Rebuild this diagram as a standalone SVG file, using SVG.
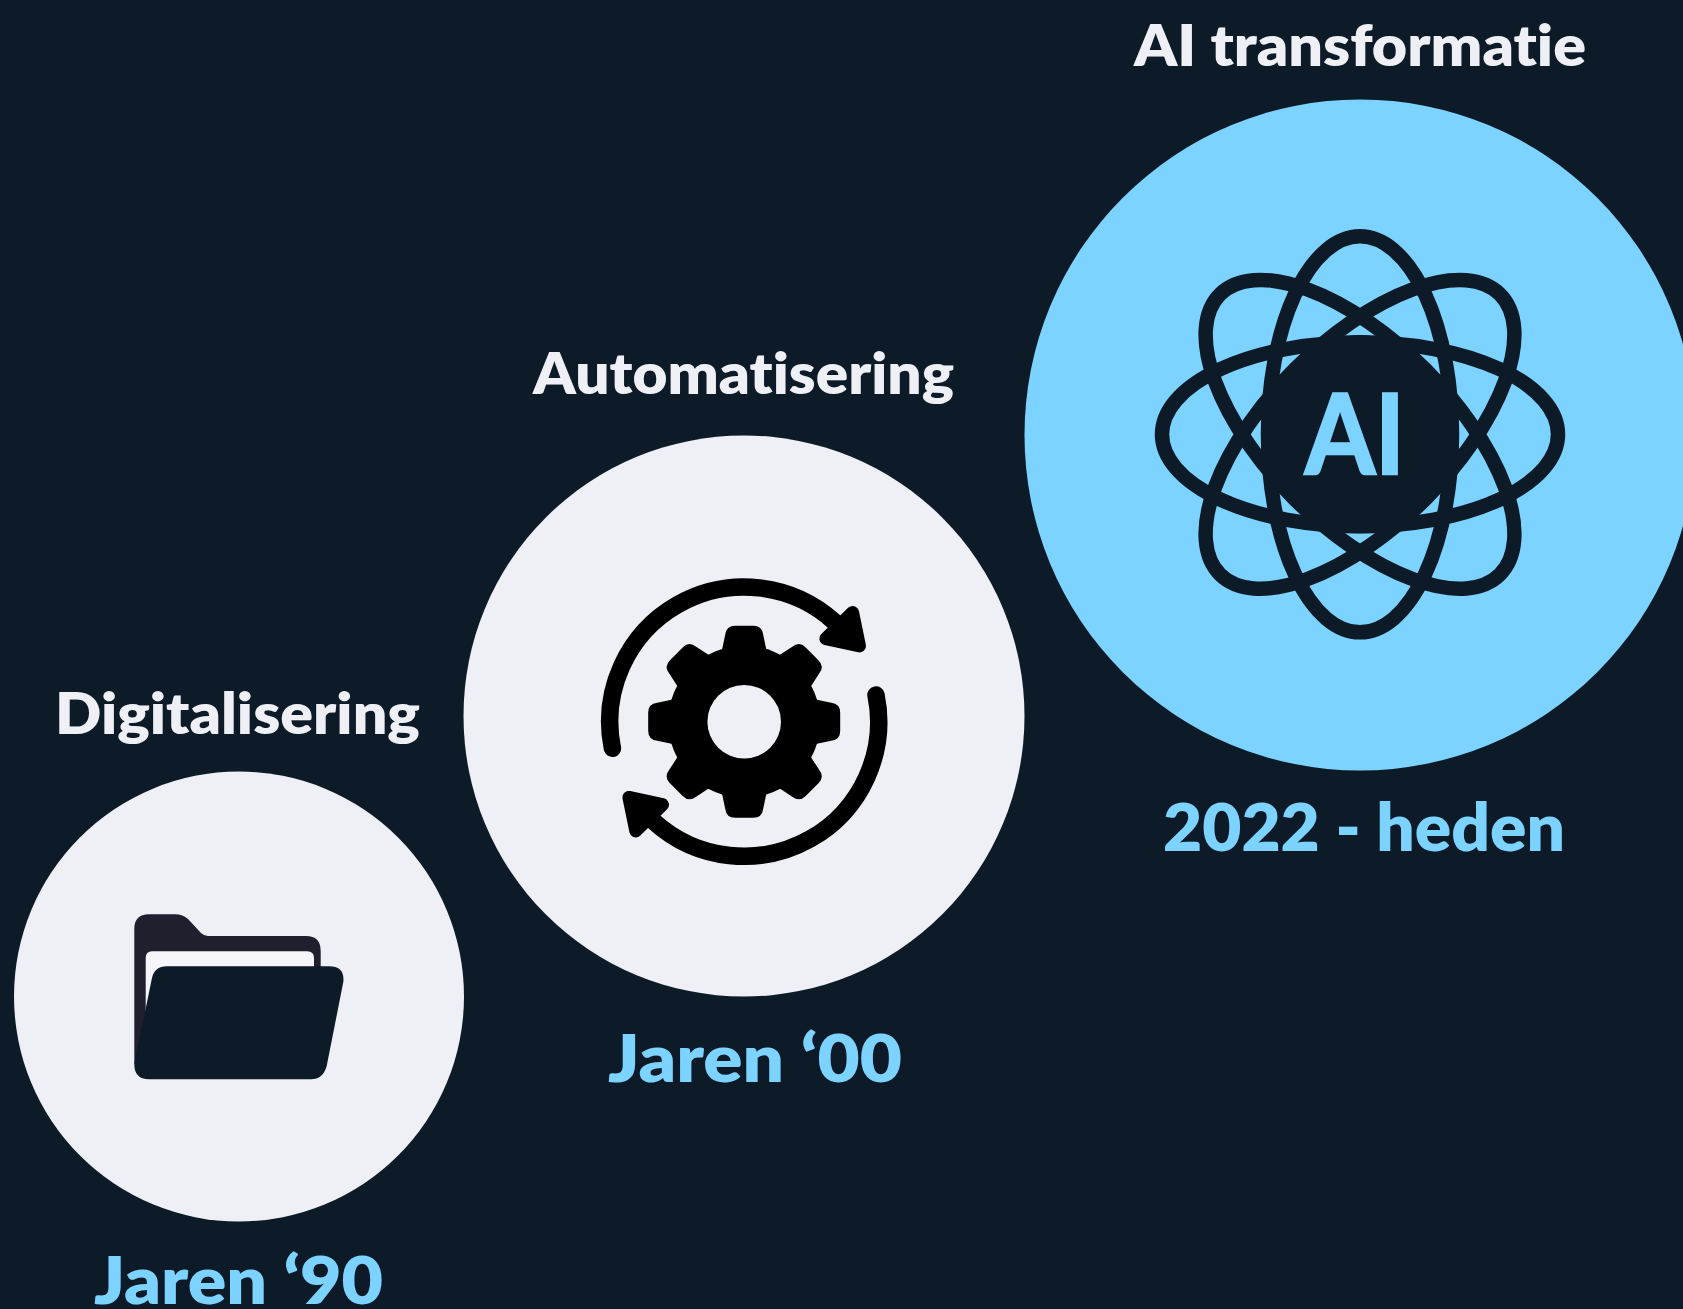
<svg xmlns="http://www.w3.org/2000/svg" xmlns:xlink="http://www.w3.org/1999/xlink" width="1683" height="1309" viewBox="0 0 1683 1309">
<style>
.t{font-family:"Lato","Noto Sans",sans-serif;font-weight:800;text-anchor:start;font-variant-ligatures:none}
.w{fill:#EEF0F5;font-size:57px}
.b{fill:#7DD3FF;font-size:66px}
.orb{fill:none;stroke:#0D1B28;stroke-width:14.5}
.arc{fill:none;stroke:#000;stroke-width:17.5;stroke-linecap:round}
.head{fill:#000;stroke:#000;stroke-width:13;stroke-linejoin:round}
</style>
<defs>
<path id="tooth" d="M-23 -68L-19 -87Q-18 -96 -9 -96H9Q18 -96 19 -87L23 -68Z"/>
<g id="arrow">
<path class="arc" d="M-131.8 26.6A134.5 134.5 0 0 1 90.4 -99.7"/>
<path class="head" d="M108.4 -109.2L115.3 -75.7L81.7 -83Z"/>
</g>
</defs>
<rect width="1683" height="1309" fill="#0D1B28"/>
<g id="node-digitalisering">
<circle cx="239" cy="996.5" r="225" fill="#EEF0F5"/>
<g transform="translate(0 1)">
<path fill="#1F1F2E" d="M134.3 1063V928Q134.3 913.3 149 913.3H175Q183 913.3 188 918L201 932Q204 935 208 935H306Q320.7 935 320.7 950V970H200V1063Z"/>
<path fill="#F6F5F9" d="M145.7 1010V957Q145.7 950.3 152 950.3H307Q314 950.3 314 957V1010Z"/>
<path fill="#0D1B28" d="M151.7 978.3Q154 965.3 167 965.3H329Q345 965.3 343.3 981L326.7 1065Q323 1078.3 311 1078.3H149Q134.3 1078.3 134.3 1063Z"/>
</g>
<text class="t w" x="55" y="733.5" textLength="365" lengthAdjust="spacingAndGlyphs">Digitalisering</text>
<text class="t b" x="94" y="1304" textLength="289" lengthAdjust="spacingAndGlyphs">Jaren ‘90</text>
</g>
<g id="node-automatisering">
<circle cx="744" cy="716" r="280.5" fill="#EEF0F5"/>
<g transform="translate(744.2 721.7)">
<circle r="76"/>
<use xlink:href="#tooth" href="#tooth"/>
<use xlink:href="#tooth" href="#tooth" transform="rotate(45)"/>
<use xlink:href="#tooth" href="#tooth" transform="rotate(90)"/>
<use xlink:href="#tooth" href="#tooth" transform="rotate(135)"/>
<use xlink:href="#tooth" href="#tooth" transform="rotate(180)"/>
<use xlink:href="#tooth" href="#tooth" transform="rotate(225)"/>
<use xlink:href="#tooth" href="#tooth" transform="rotate(270)"/>
<use xlink:href="#tooth" href="#tooth" transform="rotate(315)"/>
<circle r="36.8" fill="#EEF0F5"/>
<use xlink:href="#arrow" href="#arrow"/>
<use xlink:href="#arrow" href="#arrow" transform="rotate(180)"/>
</g>
<text class="t w" x="533" y="394" textLength="421" lengthAdjust="spacingAndGlyphs">Automatisering</text>
<text class="t b" x="608" y="1081.500" textLength="294" lengthAdjust="spacingAndGlyphs">Jaren ‘00</text>
</g>
<g id="node-ai-transformatie">
<circle cx="1360" cy="435" r="335.500" fill="#7DD3FF"/>
<g transform="translate(1360 434.300)">
<circle r="99" fill="#0D1B28"/>
<ellipse class="orb" rx="198" ry="92"/>
<ellipse class="orb" rx="198" ry="92" transform="rotate(45)"/>
<ellipse class="orb" rx="198" ry="92" transform="rotate(90)"/>
<ellipse class="orb" rx="198" ry="92" transform="rotate(135)"/>
<text x="-55" y="40" font-family="Lato,sans-serif" font-weight="700" font-size="112" fill="#7DD3FF" stroke="#7DD3FF" stroke-width="2.500" textLength="100" lengthAdjust="spacingAndGlyphs">AI</text>
</g>
<text class="t w" x="1134" y="65.500" textLength="452" lengthAdjust="spacingAndGlyphs">AI transformatie</text>
<text class="t b" x="1163" y="851" textLength="402" lengthAdjust="spacingAndGlyphs">2022 - heden</text>
</g>
</svg>
